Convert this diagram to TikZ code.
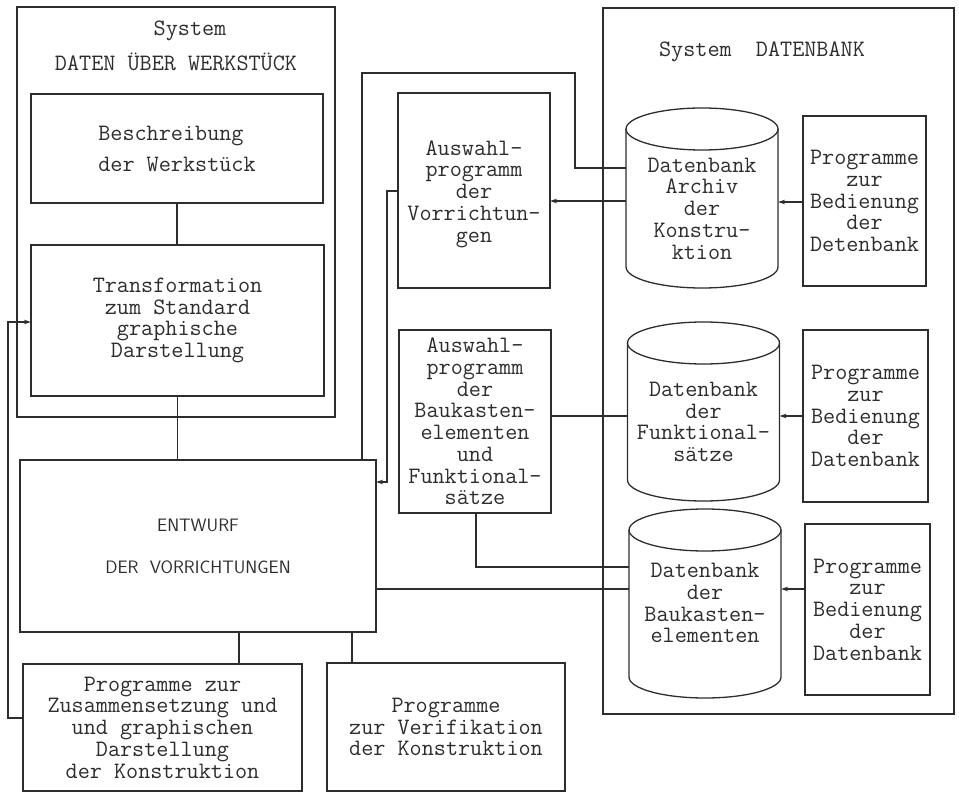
\documentclass[tikz,border=0pt]{standalone}
\usepackage{tikz}
\usetikzlibrary{arrows.meta}
\definecolor{ink}{RGB}{45, 45, 45}

\begin{document}
\begin{tikzpicture}[x = 1pt, y = -1pt, line width = 1.3pt, draw = ink, text = ink,
		font = \ttfamily\fontsize{23.5}{21.75}\selectfont,
		>={Stealth[length=7pt, width=4.5pt]},
		frame/.style = {draw, inner sep = 0pt, outer sep = 0pt},
		box/.style = {draw, inner sep = 0pt, outer sep = 0pt, align = center},
		db/.style = {inner sep = 0pt, outer sep = 0pt, align = center, minimum width = 152}]
			\useasboundingbox (0,0) rectangle (959,794);
			% system frames
			\node (sysL) at (176,212) [frame, minimum width = 318, minimum height = 410] {};
			\node (sysR) at (778.5,361) [frame, minimum width = 351, minimum height = 706] {};
			\node (sysLa) at (190,31) {System};
			\node (sysLb) at (176,62) {DATEN ÜBER WERKSTÜCK};
			\node (sysRa) at (762,52) {System~~DATENBANK};
			% left part
			\node (beschr) at (177,148.5) [box, align = left, minimum width = 292, minimum height = 109,
				font = \ttfamily\fontsize{23.5}{31}\selectfont] {Beschreibung\\der Werkstück};
			\node (trans) at (177.5,320.5) [box, minimum width = 293, minimum height = 151] {Transformation\\zum Standard\\graphische\\Darstellung};
			\node (entw) at (198,546) [box, line width = 2.6pt, minimum width = 356, minimum height = 172,
				font = \sffamily\fontsize{18}{42}\selectfont] {ENTWURF\\DER~~VORRICHTUNGEN};
			\node (zus) at (162.5,727.5) [box, minimum width = 279, minimum height = 127] {Programme zur\\Zusammensetzung und\\und graphischen\\Darstellung\\der Konstruktion};
			\node (verif) at (446,727) [box, minimum width = 238, minimum height = 128] {Programme\\zur Verifikation\\der Konstruktion};
			\node (ausw1) at (474,190.5) [box, minimum width = 152, minimum height = 195] {\mbox{}\\Auswahl-\\programm\\der\\Vorrichtun-\\gen};
			\node (ausw2) at (475,421.5) [box, minimum width = 152, minimum height = 183] {Auswahl-\\programm\\der\\Baukasten-\\elementen\\und\\Funktional-\\sätze};
			% data banks
			\node (cyl1) at (702,208.5) [db, minimum height = 117] {Datenbank\\Archiv\\der\\Konstru-\\ktion};
			\node (cyl2) at (703.5,422) [db, minimum height = 116] {Datenbank\\der\\Funktional-\\sätze};
			\node (cyl3) at (705,614) [db, minimum height = 126] {Datenbank\\der\\Baukasten-\\elementen\\\mbox{}};
			\foreach \c in {cyl1,cyl2,cyl3} {
				\draw ([yshift=21pt]\c.north) ellipse [x radius = 76pt, y radius = 21pt];
				\draw ([yshift=21pt]\c.north west) -- (\c.south west)
					arc [start angle = 180, end angle = 360, x radius = 76pt, y radius = 21pt]
					-- ([yshift=21pt]\c.north east);
			}
			\node (prog1) at (864.5,201) [box, minimum width = 123, minimum height = 170] {Programme\\zur\\Bedienung\\der\\Detenbank};
			\node (prog2) at (865.5,416) [box, minimum width = 125, minimum height = 172] {Programme\\zur\\Bedienung\\der\\Datenbank};
			\node (prog3) at (867.5,609.5) [box, minimum width = 125, minimum height = 171] {Programme\\zur\\Bedienung\\der\\Datenbank};
			% connections
			\draw (beschr.south) -- (beschr.south |- trans.north);
			\draw (trans.south) -- (trans.south |- entw.north);
			\draw (entw.south -| 239,0) -- (239,0 |- zus.north);
			\draw (entw.south -| 352,0) -- (352,0 |- verif.north);
			\draw[->] (zus.west |- 0,718) -| (8,322) -- (trans.west |- 0,322);
			\draw (entw.north -| 362,0) |- (575,73) |- (cyl1.west |- 0,168);
			\draw[->] (cyl1.west |- 0,201) -- (ausw1.east |- 0,201);
			\draw[->] (ausw1.west |- 0,191) -| (387,482) -- (entw.east |- 0,482);
			\draw (ausw2.east |- 0,416) -- (cyl2.west |- 0,416);
			\draw (ausw2.south -| 476,0) |- (cyl3.west |- 0,567);
			\draw (entw.east |- 0,589) -- (cyl3.west |- 0,589);
			\draw[->] (prog1.west |- 0,202) -- (cyl1.east |- 0,202);
			\draw[->] (prog2.west |- 0,416) -- (cyl2.east |- 0,416);
			\draw[->] (prog3.west |- 0,589) -- (cyl3.east |- 0,589);
\end{tikzpicture}
\end{document}
